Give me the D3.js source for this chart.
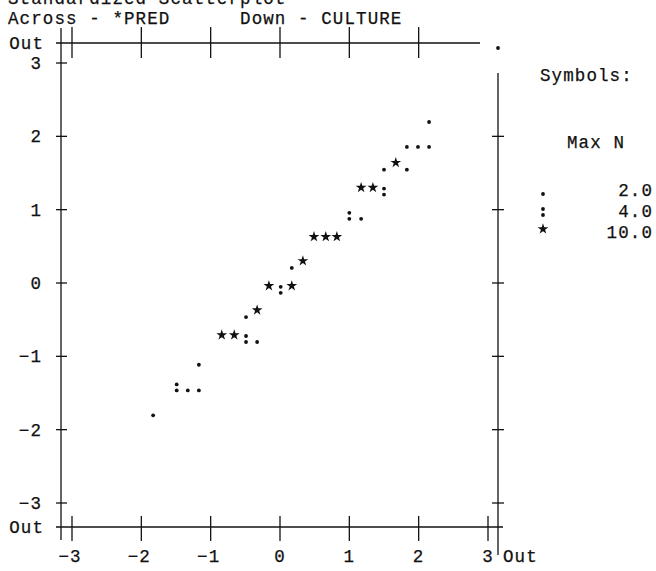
<!DOCTYPE html>
<html>
<head>
<meta charset="utf-8">
<script src="https://cdn.jsdelivr.net/npm/d3@7"></script>
<style>
  html, body { margin: 0; padding: 0; background: #fff; }
  svg { display: block; }
  text { font-family: "Liberation Mono", "Courier New", monospace; font-size: 17.5px; letter-spacing: 1.1px;
         fill: #111; stroke: #111; stroke-width: 0.25px; }
</style>
</head>
<body>
<svg id="chart" width="656" height="571"></svg>
<script>
// Standardized scatterplot: predicted values (across) vs CULTURE (down)
const titleLines = ["Standardized Scatterplot", "Across - *PRED      Down - CULTURE"];
const tickValues = [-3, -2, -1, 0, 1, 2, 3];
const tickLabels = ["\u22123", "\u22122", "\u22121", "0", "1", "2", "3"];

// plotted cells: standardized *PRED, standardized CULTURE, symbol
const predValues = [-1.83, -1.49, -1.33, -1.17, -1.17, -0.84, -0.66, -0.49, -0.33, -0.49, -0.33,
                    -0.16, 0.01, 0.17, 0.17, 0.33, 0.49, 0.66, 0.82, 1.00, 1.17, 1.17, 1.34,
                    1.50, 1.50, 1.67, 1.83, 1.83, 1.99, 2.15, 2.15];
const cultureValues = [-1.75, -1.41, -1.41, -1.41, -1.06, -0.75, -0.75, -0.75, -0.75, -0.41, -0.41,
                       -0.08, -0.08, -0.08, 0.26, 0.26, 0.59, 0.59, 0.59, 0.93, 0.93, 1.26, 1.26,
                       1.26, 1.60, 1.60, 1.60, 1.91, 1.91, 1.91, 2.25];
const cellSymbols = [".", ":", ".", ".", ".", "*", "*", ":", ".", ".", "*",
                     "*", ":", "*", ".", "*", "*", "*", "*", ":", ".", "*", "*",
                     ":", ".", "*", ".", ".", ".", ".", "."];
// one case falls outside both axes (Out, Out)
const outCells = [{ x: "Out", y: "Out", symbol: "." }];

const legendSymbols = [".", ":", "*"];
const legendMaxN = ["2.0", "4.0", "10.0"];

const svg = d3.select("#chart");
const ink = "#111";

const x = d3.scaleLinear().domain([-3, 3]).range([72, 488]);
const y = d3.scaleLinear().domain([-3, 3]).range([503, 63]);
const outLeft = 61, outRight = 498, outTop = 43, outBottom = 527;

// header lines
svg.append("text").attr("x", 8).attr("y", 4).text(titleLines[0]);
svg.append("text").attr("x", 8).attr("y", 24).attr("xml:space", "preserve").style("white-space", "pre").text(titleLines[1]);

const lines = svg.append("g").attr("stroke", ink).attr("stroke-width", 1.3).attr("fill", "none");

// frame: left border, top and bottom rules, right border
lines.append("line").attr("x1", outLeft).attr("x2", outLeft).attr("y1", 28).attr("y2", 540);
lines.append("line").attr("x1", 56).attr("x2", 480).attr("y1", outTop).attr("y2", outTop);
lines.append("line").attr("x1", 56).attr("x2", 503).attr("y1", outBottom).attr("y2", outBottom);
lines.append("line").attr("x1", outRight).attr("x2", outRight).attr("y1", 73).attr("y2", 555);

// ticks on the top rule (no tick at 3)
tickValues.filter(v => v < 3).forEach(v => {
  lines.append("line").attr("x1", x(v)).attr("x2", x(v)).attr("y1", 27).attr("y2", 58);
});
// ticks on the bottom rule
tickValues.forEach(v => {
  lines.append("line").attr("x1", x(v)).attr("x2", x(v)).attr("y1", 516).attr("y2", 541);
});
// ticks on the left border
tickValues.forEach(v => {
  lines.append("line").attr("x1", 56).attr("x2", 67).attr("y1", y(v)).attr("y2", y(v));
});
// ticks on the right border (no tick at 3)
tickValues.filter(v => v < 3).forEach(v => {
  lines.append("line").attr("x1", 492).attr("x2", 504).attr("y1", y(v)).attr("y2", y(v));
});

// y tick labels
const yl = svg.append("g").attr("text-anchor", "end");
tickValues.forEach((v, i) => {
  yl.append("text").attr("x", 42).attr("y", y(v) + 6).text(tickLabels[i]);
});
yl.append("text").attr("x", 44).attr("y", outTop + 6).text("Out");
yl.append("text").attr("x", 44).attr("y", outBottom + 6).text("Out");

// x tick labels
const xl = svg.append("g").attr("text-anchor", "middle");
tickValues.forEach((v, i) => {
  xl.append("text").attr("x", x(v) + (v < 0 ? -2 : 0)).attr("y", 562).text(tickLabels[i]);
});
svg.append("text").attr("x", 503).attr("y", 562).text("Out");

// symbol drawing: '.' one dot, ':' two dots, '*' a star
function drawSymbol(g, cx, cy, s) {
  if (s === ".") {
    g.append("circle").attr("cx", cx).attr("cy", cy + 4).attr("r", 1.9).attr("fill", ink);
  } else if (s === ":") {
    g.append("circle").attr("cx", cx).attr("cy", cy - 2).attr("r", 1.9).attr("fill", ink);
    g.append("circle").attr("cx", cx).attr("cy", cy + 4).attr("r", 1.9).attr("fill", ink);
  } else {
    g.append("path").attr("d", d3.symbol(d3.symbolStar, 36)())
      .attr("transform", `translate(${cx},${cy - 3})`).attr("fill", ink);
  }
}

const marks = svg.append("g");
predValues.forEach((v, i) => drawSymbol(marks, x(v), y(cultureValues[i]), cellSymbols[i]));
outCells.forEach(c => drawSymbol(marks, c.x === "Out" ? outRight : x(c.x), c.y === "Out" ? outTop + 1 : y(c.y), c.symbol));

// legend
svg.append("text").attr("x", 540).attr("y", 81).text("Symbols:");
svg.append("text").attr("x", 567).attr("y", 148).attr("xml:space", "preserve").text("Max N");
const legendY = [190, 211, 232];
legendSymbols.forEach((s, i) => {
  drawSymbol(marks, 543, legendY[i], s);
  svg.append("text").attr("x", 653).attr("y", legendY[i] + 6).attr("text-anchor", "end").text(legendMaxN[i]);
});
</script>
</body>
</html>
